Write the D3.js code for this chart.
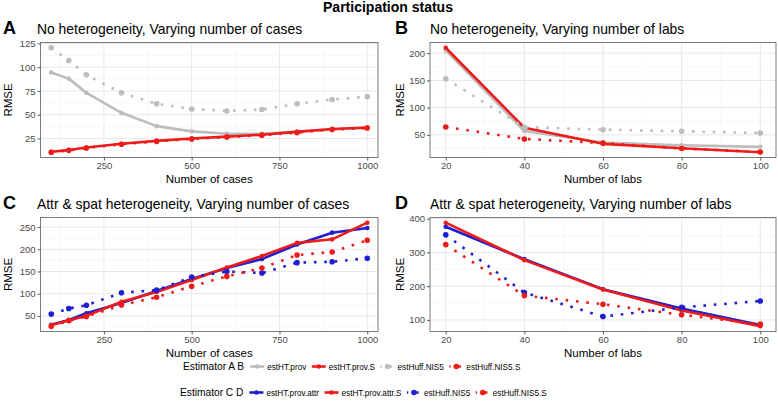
<!DOCTYPE html>
<html>
<head>
<meta charset="utf-8">
<script src="https://cdn.jsdelivr.net/npm/d3@7"></script>
<style>
  html, body { margin: 0; padding: 0; background: #fff; }
  svg { display: block; font-family: "Liberation Sans", Arial, sans-serif; }
</style>
</head>
<body>
<svg id="chart" width="778" height="411"></svg>
<script>
// ---------------- DATA ----------------
const casesX = [100, 150, 200, 300, 400, 500, 600, 700, 800, 900, 1000];
const labsX  = [20, 40, 60, 80, 100];

// Panel A: No heterogeneity, varying number of cases
const aHTprov   = [94.5, 88, 73, 52, 38, 32.5, 30, 30, 32.5, 34.5, 36];
const aHTprovS  = [11, 12.8, 15.5, 19.5, 22.5, 25, 27, 29, 32, 35, 36.5];
const aHuff     = [120.5, 107, 92, 73, 61.5, 56, 54, 55.5, 61.5, 66, 69];
const aHuffS    = [10.5, 12.5, 15, 19, 22, 24.5, 26.5, 28.5, 31, 34.5, 36];

// Panel B: No heterogeneity, varying number of labs
const bHTprov   = [205, 57, 36, 31, 28];
const bHTprovS  = [210, 63, 33.5, 25.5, 18];
const bHuff     = [153, 64, 59.5, 56.5, 53.5];
const bHuffS    = [64.5, 42.5, 35, 25, 18.5];

// Panel C: Attr & spat heterogeneity, varying number of cases
const cHTattr   = [30, 41, 56, 79, 106, 133, 158, 178, 211, 237.5, 248];
const cHTattrS  = [29, 40, 50, 82, 104, 131, 159, 185, 214.5, 222.5, 260];
const cHuff     = [54, 66.5, 74, 102, 108, 137.5, 150, 146.5, 170, 172, 180];
const cHuffS    = [26.5, 39, 48.5, 74.5, 92, 116.5, 139, 158, 187, 194, 220.5];

// Panel D: Attr & spat heterogeneity, varying number of labs
const dHTattr   = [376, 280, 191, 134, 85];
const dHTattrS  = [388, 277, 190, 128, 81];
const dHuff     = [352, 181, 110, 137, 156];
const dHuffS    = [323, 172, 146.5, 115, 88];

const ticksCases = [250, 500, 750, 1000];
const ticksLabs  = [20, 40, 60, 80, 100];
const ticksA = [25, 50, 75, 100, 125];
const ticksB = [50, 100, 150, 200];
const ticksC = [50, 100, 150, 200, 250];
const ticksD = [100, 200, 300, 400];

const labelsAB = ["estHT.prov", "estHT.prov.S", "estHuff.NIS5", "estHuff.NIS5.S"];
const labelsCD = ["estHT.prov.attr", "estHT.prov.attr.S", "estHuff.NIS5", "estHuff.NIS5.S"];

// ---------------- STYLE ----------------
const GRAY = "#bdbdbd", RED = "#ee1b1b", BLUE = "#1e1ed2";
const LW = 2.6;
const DASH = "2.6 7.8";

const svg = d3.select("#chart");

svg.append("text").attr("x", 388).attr("y", 12).attr("text-anchor", "middle")
  .attr("font-size", 14).attr("font-weight", "bold").attr("fill", "#000")
  .text("Participation status");

function panel(opt) {
  const {left, right, top, bottom, xs, xTicks, yTicks, series, tag, tagX, subtitle, subX, xTitle, yTitleX, xPad} = opt;
  const allY = series.flatMap(s => s.values);
  const yMin = d3.min(allY), yMax = d3.max(allY);
  const yr = yMax - yMin;
  const xMin = d3.min(xs), xMax = d3.max(xs), xr = xMax - xMin;
  const x = d3.scaleLinear().domain([xMin - xPad * xr, xMax + xPad * xr]).range([left, right]);
  const y = d3.scaleLinear().domain([yMin - 0.05 * yr, yMax + 0.05 * yr]).range([bottom, top]);

  const g = svg.append("g");
  // grid: minor
  const xStep = xTicks[1] - xTicks[0], yStep = yTicks[1] - yTicks[0];
  const xMinor = d3.range(xTicks[0] - xStep / 2, xTicks[xTicks.length - 1] + xStep, xStep)
    .filter(v => v > x.domain()[0] && v < x.domain()[1]);
  const yMinor = d3.range(yTicks[0] - yStep / 2, yTicks[yTicks.length - 1] + yStep, yStep)
    .filter(v => v > y.domain()[0] && v < y.domain()[1]);
  g.selectAll(".xmin").data(xMinor).join("line")
    .attr("x1", d => x(d)).attr("x2", d => x(d)).attr("y1", top).attr("y2", bottom)
    .attr("stroke", "#f3f3f3").attr("stroke-width", 0.6);
  g.selectAll(".ymin").data(yMinor).join("line")
    .attr("y1", d => y(d)).attr("y2", d => y(d)).attr("x1", left).attr("x2", right)
    .attr("stroke", "#f3f3f3").attr("stroke-width", 0.6);
  g.selectAll(".xmaj").data(xTicks).join("line")
    .attr("x1", d => x(d)).attr("x2", d => x(d)).attr("y1", top).attr("y2", bottom)
    .attr("stroke", "#e8e8e8").attr("stroke-width", 1);
  g.selectAll(".ymaj").data(yTicks).join("line")
    .attr("y1", d => y(d)).attr("y2", d => y(d)).attr("x1", left).attr("x2", right)
    .attr("stroke", "#e8e8e8").attr("stroke-width", 1);

  // series
  const clip = "clip" + tag;
  svg.append("clipPath").attr("id", clip).append("rect")
    .attr("x", left).attr("y", top).attr("width", right - left).attr("height", bottom - top);
  const sg = g.append("g").attr("clip-path", `url(#${clip})`);
  series.forEach(s => {
    const pts = xs.map((xv, i) => [xv, s.values[i]]);
    const line = d3.line().x(d => x(d[0])).y(d => y(d[1]));
    sg.append("path").attr("d", line(pts)).attr("fill", "none")
      .attr("stroke", s.color).attr("stroke-width", LW)
      .attr("stroke-dasharray", s.dotted ? DASH : null)
      .attr("stroke-linejoin", "round");
    sg.selectAll(null).data(pts).join("circle")
      .attr("cx", d => x(d[0])).attr("cy", d => y(d[1]))
      .attr("r", s.dotted ? 2.8 : 2.3).attr("fill", s.color);
  });

  // border
  g.append("rect").attr("x", left).attr("y", top).attr("width", right - left).attr("height", bottom - top)
    .attr("fill", "none").attr("stroke", "#6e6e6e").attr("stroke-width", 0.9);

  // axes
  const xa = g.append("g").attr("transform", `translate(0,${bottom})`)
    .call(d3.axisBottom(x).tickValues(xTicks).tickSize(3).tickPadding(2).tickFormat(d3.format("d")));
  const ya = g.append("g").attr("transform", `translate(${left},0)`)
    .call(d3.axisLeft(y).tickValues(yTicks).tickSize(3).tickPadding(2).tickFormat(d3.format("d")));
  [xa, ya].forEach(a => {
    a.select(".domain").remove();
    a.selectAll(".tick line").attr("stroke", "#333").attr("stroke-width", 0.8);
    a.selectAll(".tick text").attr("fill", "#4d4d4d").attr("font-size", 9.5)
      .attr("font-family", "Liberation Sans, Arial, sans-serif");
  });

  // texts
  svg.append("text").attr("x", tagX).attr("y", top - 9).attr("font-size", 18).attr("font-weight", "bold")
    .attr("fill", "#000").text(tag);
  svg.append("text").attr("x", subX).attr("y", top - 8.8).attr("font-size", 13.9).attr("fill", "#000")
    .text(subtitle);
  svg.append("text").attr("x", (left + right) / 2).attr("y", bottom + 25).attr("text-anchor", "middle")
    .attr("font-size", 11.5).attr("fill", "#000").text(xTitle);
  svg.append("text").attr("transform", `translate(${yTitleX},${(top + bottom) / 2}) rotate(-90)`)
    .attr("text-anchor", "middle").attr("font-size", 11.5).attr("fill", "#000").text("RMSE");
}

panel({left: 40.5, right: 378, top: 42.5, bottom: 157.5, xs: casesX, xTicks: ticksCases, yTicks: ticksA, xPad: 0.034,
  tag: "A", tagX: 3, subtitle: "No heterogeneity, Varying number of cases", subX: 37, xTitle: "Number of cases", yTitleX: 12,
  series: [
    {values: aHTprov, color: GRAY, dotted: false},
    {values: aHTprovS, color: RED, dotted: false},
    {values: aHuff, color: GRAY, dotted: true},
    {values: aHuffS, color: RED, dotted: true}
  ]});
panel({left: 430, right: 776, top: 42.5, bottom: 157.5, xs: labsX, xTicks: ticksLabs, yTicks: ticksB, xPad: 0.05,
  tag: "B", tagX: 395, subtitle: "No heterogeneity, Varying number of labs", subX: 430, xTitle: "Number of labs", yTitleX: 404,
  series: [
    {values: bHTprov, color: GRAY, dotted: false},
    {values: bHTprovS, color: RED, dotted: false},
    {values: bHuff, color: GRAY, dotted: true},
    {values: bHuffS, color: RED, dotted: true}
  ]});
panel({left: 40.5, right: 378, top: 217.5, bottom: 331.5, xs: casesX, xTicks: ticksCases, yTicks: ticksC, xPad: 0.034,
  tag: "C", tagX: 3, subtitle: "Attr & spat heterogeneity, Varying number of cases", subX: 37, xTitle: "Number of cases", yTitleX: 12,
  series: [
    {values: cHTattr, color: BLUE, dotted: false},
    {values: cHTattrS, color: RED, dotted: false},
    {values: cHuff, color: BLUE, dotted: true},
    {values: cHuffS, color: RED, dotted: true}
  ]});
panel({left: 430, right: 776, top: 217.5, bottom: 331.5, xs: labsX, xTicks: ticksLabs, yTicks: ticksD, xPad: 0.05,
  tag: "D", tagX: 395, subtitle: "Attr & spat heterogeneity, Varying number of labs", subX: 430, xTitle: "Number of labs", yTitleX: 404,
  series: [
    {values: dHTattr, color: BLUE, dotted: false},
    {values: dHTattrS, color: RED, dotted: false},
    {values: dHuff, color: BLUE, dotted: true},
    {values: dHuffS, color: RED, dotted: true}
  ]});

// ---------------- LEGENDS ----------------
function legendRow(title, labels, colors, dotted, x0, yBase) {
  const g = svg.append("g");
  const t = g.append("text").attr("x", x0).attr("y", yBase).attr("font-size", 10.2).attr("fill", "#000").text(title);
  let cx = x0 + t.node().getComputedTextLength() + 6;
  labels.forEach((lab, i) => {
    const ky = yBase - 3.5;
    g.append("line").attr("x1", cx).attr("x2", cx + 14).attr("y1", ky).attr("y2", ky)
      .attr("stroke", colors[i]).attr("stroke-width", LW)
      .attr("stroke-dasharray", dotted[i] ? DASH : null)
      .attr("stroke-dashoffset", dotted[i] ? 1.3 : null);
    g.append("circle").attr("cx", cx + 7).attr("cy", ky).attr("r", dotted[i] ? 2.8 : 2.3).attr("fill", colors[i]);
    const tx = g.append("text").attr("x", cx + 17).attr("y", yBase - 0.5).attr("font-size", 8.2)
      .attr("fill", "#000").text(lab);
    cx = cx + 17 + tx.node().getComputedTextLength() + 5.5;
  });
}
legendRow("Estimator A B", labelsAB, [GRAY, RED, GRAY, RED], [false, false, true, true], 183, 370);
legendRow("Estimator C D", labelsCD, [BLUE, RED, BLUE, RED], [false, false, true, true], 180, 396);
</script>
</body>
</html>
